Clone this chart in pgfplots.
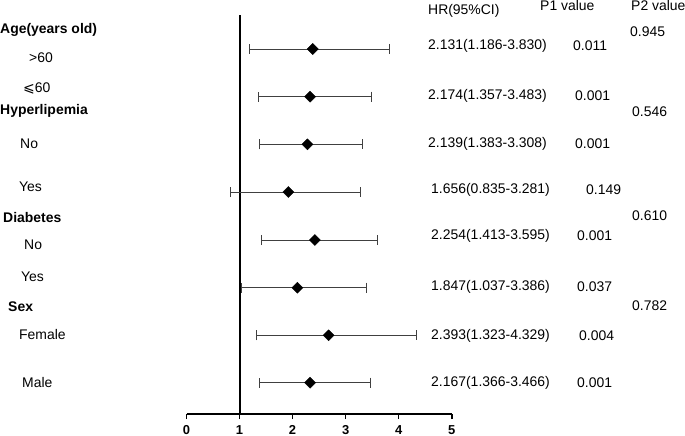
\documentclass[border=0pt]{standalone}
\usepackage{pgfplots}
\pgfplotsset{compat=1.18}
\usepackage{pgfplotstable}
\usepackage{fontspec}
\setmainfont{Liberation Sans}
\newfontfamily\sym{DejaVu Sans}

\pgfplotstableread{
x     y      lo     hi
2.38  387.0  1.186  3.830
2.33  339.3  1.357  3.483
2.28  291.7  1.383  3.308
1.92  244.0  0.835  3.281
2.42  196.0  1.413  3.595
2.09  148.3  1.037  3.386
2.68  100.7  1.323  4.329
2.33  53.3   1.366  3.466
}\forestdata

\newcommand{\T}[3]{\node[anchor=west,inner sep=0pt,font=\fontsize{14}{16}\selectfont] at (#1bp,-#2bp) {#3};}
\newcommand{\B}[3]{\node[anchor=west,inner sep=0pt,font=\bfseries\fontsize{14}{16}\selectfont] at (#1bp,-#2bp) {#3};}

\begin{document}
\begin{tikzpicture}
\useasboundingbox (0,0) rectangle (685bp,-436bp);
\begin{axis}[
  at={(186.5bp,-414bp)}, anchor=south west,
  width=265.2bp, height=399bp, scale only axis,
  xmin=0, xmax=5, ymin=22, ymax=421,
  axis x line*=bottom, axis y line=none,
  x axis line style={line width=1.6bp},
  xtick={0,1,2,3,4,5},
  tick align=outside, major tick length=5bp,
  tick style={line width=1.6bp, black},
  xticklabel style={font=\bfseries\fontsize{13}{14}\selectfont, inner sep=0pt, yshift=-6.5bp},
  /pgf/number format/assume math mode=true,
  clip=false,
]
\draw[line width=2bp] (axis cs:1,22) -- (axis cs:1,421);
\addplot[only marks, mark=square*, mark size=3.9bp, mark options={rotate=45, black, fill=black},
  error bars/.cd, x dir=both, x explicit,
  error bar style={line width=0.8bp, black!75},
  error mark=|,
  error mark options={mark size=5bp, line width=0.8bp, black!75}]
  table[x=x, y=y, x error plus expr=\thisrow{hi}-\thisrow{x}, x error minus expr=\thisrow{x}-\thisrow{lo}] {\forestdata};
\end{axis}

\B{0}{30}{Age(years old)}
\T{29}{58}{>60}
\T{23}{88}{{\sym ⩽}60}
\B{0}{111}{Hyperlipemia}
\T{20}{144}{No}
\T{19}{187}{Yes}
\B{3}{218}{Diabetes}
\T{24}{245}{No}
\T{21}{277}{Yes}
\B{8}{307}{Sex}
\T{19}{335}{Female}
\T{22}{383}{Male}

\T{428}{11}{HR(95\%CI)}
\T{540}{6}{P1 value}
\T{631}{6}{P2 value}
\T{630}{32}{0.945}
\T{428}{46}{2.131(1.186-3.830)}
\T{573}{46}{0.011}
\T{428}{96}{2.174(1.357-3.483)}
\T{575}{96}{0.001}
\T{632}{112}{0.546}
\T{428}{144}{2.139(1.383-3.308)}
\T{575}{144}{0.001}
\T{431}{190}{1.656(0.835-3.281)}
\T{586}{190}{0.149}
\T{632}{216}{0.610}
\T{431}{236}{2.254(1.413-3.595)}
\T{577}{236}{0.001}
\T{431}{287}{1.847(1.037-3.386)}
\T{577}{287}{0.037}
\T{632}{306}{0.782}
\T{431}{336}{2.393(1.323-4.329)}
\T{579}{336}{0.004}
\T{431}{383}{2.167(1.366-3.466)}
\T{577}{383}{0.001}
\end{tikzpicture}
\end{document}
